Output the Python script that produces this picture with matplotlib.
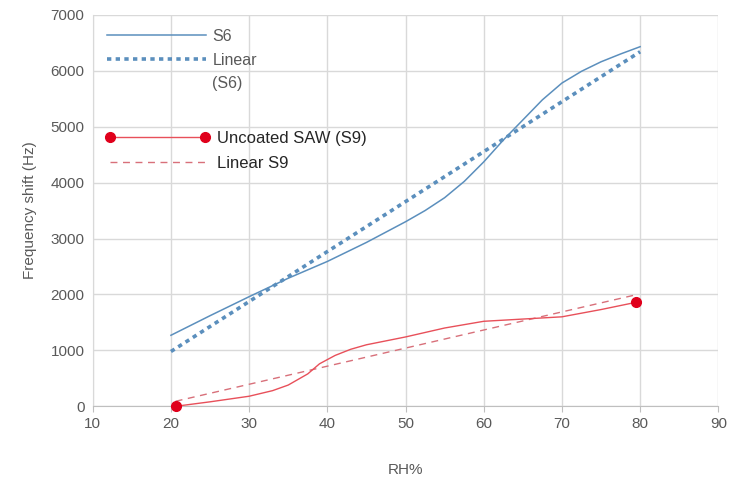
import numpy as np
import matplotlib.pyplot as plt
from matplotlib.lines import Line2D

plt.rcParams['font.family'] = ['Liberation Sans', 'DejaVu Sans']

# S6 coated sensor
rh_s6 = [20, 25, 30, 35, 40, 45, 50, 52.5, 55, 57.5, 60, 62.5, 65, 67.5, 70, 72.5, 75, 77.5, 80]
f_s6 = [1270, 1620, 1960, 2290, 2590, 2930, 3300, 3500, 3730, 4020, 4370, 4760, 5120, 5480, 5780, 5990, 6160, 6300, 6430]
lin_s6_x = [20, 80]
lin_s6_y = [980, 6340]

# S9 uncoated SAW
rh_s9 = [20.6, 25, 30, 33, 35, 37.5, 39, 41, 43, 45, 50, 55, 60, 65, 70, 75, 79.5]
f_s9 = [0, 80, 180, 280, 380, 580, 760, 910, 1020, 1100, 1240, 1400, 1520, 1560, 1600, 1730, 1860]
lin_s9_x = [20.6, 79.5]
lin_s9_y = [90, 1995]

blue = '#5b8fbd'
red = '#e8505a'
dot = '#e0001b'
grey = '#595959'

fig = plt.figure(figsize=(7.36, 4.78), dpi=100)
ax = fig.add_axes([0.126, 0.150, 0.850, 0.819])

l1, = ax.plot(rh_s6, f_s6, color=blue, lw=1.1)
l2, = ax.plot(lin_s6_x, lin_s6_y, color=blue, lw=2.6, linestyle=(0, (1.2, 1.2)))
l3, = ax.plot(rh_s9, f_s9, color=red, lw=1.0, marker='o', markersize=7,
              markevery=[0, len(rh_s9) - 1], markerfacecolor=dot, markeredgecolor=dot,
              clip_on=False, zorder=4)
l4, = ax.plot(lin_s9_x, lin_s9_y, color='#d8707a', lw=1.0, linestyle=(0, (5, 4)))

ax.set_xlim(10, 90)
ax.set_ylim(0, 7000)
ax.set_xticks(range(10, 91, 10))
ax.set_yticks(range(0, 7001, 1000))
ax.grid(True, color='#d9d9d9', lw=1)
ax.set_axisbelow(True)
for s in ['top', 'right']:
    ax.spines[s].set_visible(False)
ax.spines['left'].set_color('#d9d9d9')
ax.spines['bottom'].set_color('#bfbfbf')
ax.tick_params(colors=grey, labelsize=11, length=0, pad=6)
ax.tick_params(axis='x', length=4, color='#bfbfbf', pad=4)
ax.set_xlabel('RH%', color=grey, fontsize=11, labelpad=24)
ax.xaxis.set_label_coords(0.5, -0.145)
ax.set_ylabel('Frequency shift (Hz)', color=grey, fontsize=11, labelpad=10)

blank = Line2D([], [], color='none')
leg1 = ax.legend([l1, l2, blank], ['S6', 'Linear', '(S6)'], loc='upper left',
                 bbox_to_anchor=(0.005, 0.993), frameon=False, fontsize=11.5,
                 handlelength=6.2, handletextpad=0.4, labelspacing=0.55,
                 labelcolor=grey, borderaxespad=0.3)
ax.add_artist(leg1)
leg2 = ax.legend([l3, l4], ['Uncoated SAW (S9)', 'Linear S9'], loc='upper left',
                 bbox_to_anchor=(0.001, 0.734), frameon=False, fontsize=12,
                 handlelength=6.3, handletextpad=0.4, labelspacing=0.6,
                 numpoints=2, labelcolor='#262626', borderaxespad=0.3)

fig.savefig('out.png', dpi=100)
